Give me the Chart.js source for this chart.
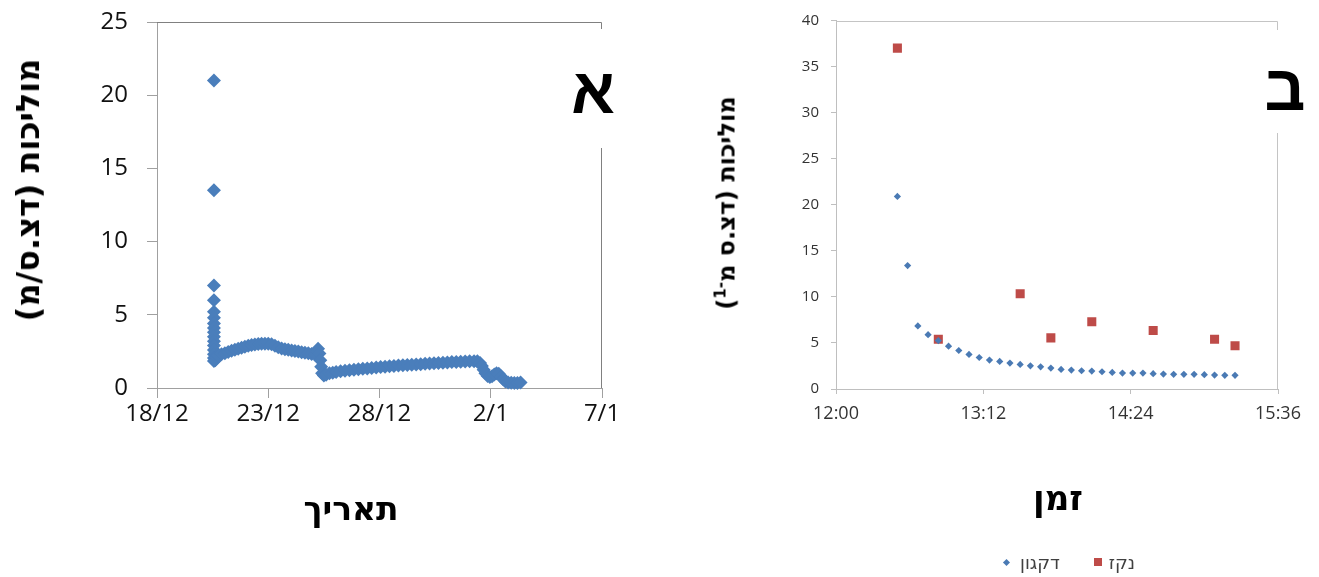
<!DOCTYPE html>
<html lang="he">
<head>
<meta charset="utf-8">
<title>מוליכות</title>
<script src="https://cdn.jsdelivr.net/npm/chart.js@4.4.1/dist/chart.umd.min.js"></script>
<style>
    html, body { margin: 0; padding: 0; background: #fff; }
    body { width: 1319px; height: 577px; position: relative; overflow: hidden;
           font-family: 'DejaVu Sans', 'Liberation Sans', sans-serif; }
    .box { position: absolute; top: 0; height: 577px; }
    #left-box { left: 0; width: 640px; }
    #right-box { left: 660px; width: 659px; }
    canvas { display: block; }
    .txt { position: absolute; white-space: nowrap; direction: rtl; color: #000;
           font-weight: bold; line-height: 1; transform: translate(-50%, -50%); }
    .vert { transform: translate(-50%, -50%) rotate(-90deg); }
    .cover { position: absolute; background: #fff; }
    .letter { font-family: 'Liberation Sans', sans-serif; font-size: 64px; }
    #legend { position: absolute; left: 1001px; top: 550px; height: 24px; display: flex;
              align-items: center; direction: ltr; font-size: 18px; color: #404040; }
    #legend .item { display: flex; align-items: center; margin-right: 34px; }
    #legend .mark { width: 8px; height: 8px; margin-right: 7px; }
    #legend .diamond { width: 5px; height: 5px; transform: rotate(45deg); margin-left: 3px; margin-right: 11px; }
</style>
</head>
<body>

<div class="box" id="left-box"><canvas id="chart-a" width="640" height="577"></canvas></div>
<div class="box" id="right-box"><canvas id="chart-b" width="659" height="577"></canvas></div>

<!-- axis titles -->
<div class="txt vert" style="left:28px; top:190px; font-size:32px;">מוליכות (דצ.ס/מ)</div>
<div class="txt" style="left:351px; top:508px; font-size:33px;">תאריך</div>
<div class="txt vert" style="left:726px; top:203px; font-size:24px;">מוליכות (דצ.ס מ<sup style="font-size:15px">-1</sup>)</div>
<div class="txt" style="left:1058px; top:498px; font-size:34px;">זמן</div>

<!-- panel letters, sitting on a white patch over the frame -->
<div class="cover" style="left:566px; top:29px; width:52px; height:119px;"></div>
<div class="txt letter" style="left:593px; top:91px;">א</div>
<div class="cover" style="left:1256px; top:30px; width:58px; height:103px;"></div>
<div class="txt letter" style="left:1285px; top:88px;">ב</div>

<div id="legend"></div>

<script>
// ---- panel A: conductivity over dates (x = days since 18/12 00:00) ----
const dateTicks = ['18/12', '23/12', '28/12', '2/1', '7/1'];

const daysSince18Dec = [
    2.56, 2.56, 2.56, 2.56, 2.56, 2.56, 2.56, 2.56, 2.56, 2.56, 2.56, 2.56, 2.56, 2.56, 2.56, 2.56,
    2.62, 2.68,
    2.75, 2.9, 3.05, 3.2, 3.35, 3.5, 3.65, 3.8, 3.95, 4.1, 4.25, 4.4, 4.55, 4.7, 4.85, 5.0,
    5.15, 5.3, 5.45, 5.6, 5.75, 5.9, 6.05, 6.2, 6.35, 6.5, 6.65, 6.8, 6.95, 7.1,
    7.18, 7.24, 7.3, 7.34, 7.38, 7.42, 7.5, 7.6, 7.75, 7.9, 8.05,
    8.25, 8.45, 8.65, 8.85, 9.05, 9.25, 9.45, 9.65, 9.85, 10.05, 10.25, 10.45, 10.65, 10.85,
    11.05, 11.25, 11.45, 11.65, 11.85, 12.05, 12.25, 12.45, 12.65, 12.85, 13.05, 13.25, 13.45,
    13.65, 13.85, 14.05, 14.25, 14.4,
    14.52, 14.6, 14.68, 14.76, 14.86, 14.96, 15.06, 15.16, 15.26, 15.36, 15.46, 15.56, 15.66,
    15.78, 15.92, 16.06, 16.2, 16.34
];
const conductivityA = [
    21.0, 13.5, 7.0, 6.0, 5.2, 4.8, 4.4, 4.1, 3.8, 3.5, 3.2, 2.9, 2.6, 2.3, 2.05, 1.85,
    1.9, 2.1,
    2.2, 2.3, 2.38, 2.46, 2.54, 2.61, 2.68, 2.75, 2.82, 2.88, 2.93, 2.97, 3.0, 3.02, 3.03, 3.02,
    2.98, 2.88, 2.78, 2.7, 2.65, 2.61, 2.57, 2.53, 2.49, 2.45, 2.41, 2.37, 2.32, 2.28,
    2.5, 2.68, 2.35, 1.9, 1.45, 1.0, 0.85, 0.9, 1.0, 1.05, 1.1,
    1.14, 1.18, 1.22, 1.25, 1.28, 1.31, 1.34, 1.37, 1.4, 1.43, 1.46, 1.49, 1.51, 1.53,
    1.55, 1.57, 1.59, 1.61, 1.63, 1.65, 1.67, 1.69, 1.71, 1.73, 1.75, 1.77, 1.78,
    1.8, 1.81, 1.82, 1.83, 1.82,
    1.7, 1.5, 1.25, 1.0, 0.82, 0.75, 0.8, 0.92, 1.0, 0.98, 0.8, 0.6, 0.45,
    0.38, 0.36, 0.35, 0.35, 0.37
];

// ---- panel B: conductivity over time, two sampling points ----
const timeTicks = ['12:00', '13:12', '14:24', '15:36'];

const decagonLabel = 'דקגון';
const decagonTimes = [
    '12:30', '12:35', '12:40', '12:45', '12:50', '12:55', '13:00', '13:05', '13:10', '13:15',
    '13:20', '13:25', '13:30', '13:35', '13:40', '13:45', '13:50', '13:55', '14:00', '14:05',
    '14:10', '14:15', '14:20', '14:25', '14:30', '14:35', '14:40', '14:45', '14:50', '14:55',
    '15:00', '15:05', '15:10', '15:15'
];
const decagonValues = [
    20.9, 13.4, 6.85, 5.9, 5.26, 4.65, 4.18, 3.75, 3.42, 3.14,
    2.99, 2.81, 2.67, 2.52, 2.41, 2.27, 2.13, 2.05, 1.98, 1.95,
    1.87, 1.8, 1.73, 1.73, 1.73, 1.66, 1.62, 1.59, 1.59, 1.59,
    1.55, 1.51, 1.48, 1.48
];

const drainLabel = 'נקז';
const drainTimes = ['12:30', '12:50', '13:30', '13:45', '14:05', '14:35', '15:05', '15:15'];
const drainValues = [37.0, 5.4, 10.35, 5.55, 7.3, 6.35, 5.4, 4.7];

function toMinutes(hhmm) {
    const [h, m] = hhmm.split(':').map(Number);
    return h * 60 + m;
}

// top and right frame lines of the plot area
const frameBorder = {
    id: 'frameBorder',
    afterDraw(chart, args, opts) {
        const { ctx, chartArea } = chart;
        const top = Math.round(chartArea.top) + 0.5;
        const right = Math.round(chartArea.right) - 0.5;
        ctx.save();
        ctx.strokeStyle = opts.color;
        ctx.lineWidth = 1;
        ctx.beginPath();
        ctx.moveTo(chartArea.left, top);
        ctx.lineTo(right, top);
        ctx.lineTo(right, chartArea.bottom);
        ctx.stroke();
        ctx.restore();
    }
};

// fixed axis box sizes so the plot area lands where the original has it
function fixHeight(h) {
    return (scale) => { scale.height = h; scale.paddingLeft = 0; scale.paddingRight = 0; };
}
function fixWidth(w) {
    return (scale) => { scale.width = w; scale.paddingTop = 0; scale.paddingBottom = 0; };
}

new Chart(document.getElementById('chart-a'), {
    type: 'scatter',
    data: {
        datasets: [{
            label: 'מוליכות',
            data: daysSince18Dec.map((d, i) => ({ x: d, y: conductivityA[i] })),
            pointStyle: 'rectRot',
            pointRadius: 7,
            pointBorderWidth: 0,
            backgroundColor: '#4a7ebb',
            borderColor: '#4a7ebb',
            clip: false
        }]
    },
    plugins: [frameBorder],
    options: {
        responsive: false,
        animation: false,
        layout: { padding: { left: 0, right: 38, top: 22, bottom: 0 } },
        plugins: {
            legend: { display: false },
            tooltip: { enabled: false },
            frameBorder: { color: '#808080' }
        },
        scales: {
            x: {
                type: 'linear',
                min: 0,
                max: 20,
                afterFit: fixHeight(189),
                ticks: {
                    stepSize: 5,
                    autoSkip: false,
                    maxRotation: 0,
                    padding: 2,
                    color: '#111',
                    font: { family: 'Open Sans', size: 24 },
                    callback: (v) => dateTicks[v / 5]
                },
                grid: { drawOnChartArea: false, tickLength: 10, color: '#a0a0a0' },
                border: { color: '#a0a0a0' }
            },
            y: {
                min: 0,
                max: 25,
                afterFit: fixWidth(157),
                ticks: {
                    stepSize: 5,
                    padding: 19,
                    color: '#111',
                    font: { family: 'Open Sans', size: 24 }
                },
                grid: { drawOnChartArea: false, tickLength: 10, color: '#a0a0a0' },
                border: { color: '#a0a0a0' }
            }
        }
    }
});

const chartB = new Chart(document.getElementById('chart-b'), {
    type: 'scatter',
    data: {
        datasets: [{
            label: decagonLabel,
            data: decagonTimes.map((t, i) => ({ x: toMinutes(t), y: decagonValues[i] })),
            pointStyle: 'rectRot',
            pointRadius: 3.6,
            pointBorderWidth: 0,
            backgroundColor: '#4a7ab4',
            borderColor: '#4a7ab4'
        }, {
            label: drainLabel,
            data: drainTimes.map((t, i) => ({ x: toMinutes(t), y: drainValues[i] })),
            pointStyle: 'rect',
            pointRadius: 6.4,
            pointBorderWidth: 0,
            backgroundColor: '#be4b48',
            borderColor: '#be4b48'
        }]
    },
    plugins: [frameBorder],
    options: {
        responsive: false,
        animation: false,
        layout: { padding: { left: 0, right: 41, top: 20.5, bottom: 0 } },
        plugins: {
            legend: { display: false },
            tooltip: { enabled: false },
            frameBorder: { color: '#c4c4c4' }
        },
        scales: {
            x: {
                type: 'linear',
                min: toMinutes(timeTicks[0]),
                max: toMinutes(timeTicks[timeTicks.length - 1]),
                afterFit: fixHeight(188),
                ticks: {
                    stepSize: 72,
                    autoSkip: false,
                    maxRotation: 0,
                    padding: 9,
                    color: '#333',
                    font: { family: 'Open Sans', size: 18 },
                    callback: (v) => timeTicks[(v - toMinutes(timeTicks[0])) / 72]
                },
                grid: { drawOnChartArea: false, tickLength: 5, color: '#bfbfbf' },
                border: { color: '#bfbfbf' }
            },
            y: {
                min: 0,
                max: 40,
                afterFit: fixWidth(176),
                ticks: {
                    stepSize: 5,
                    padding: 12,
                    color: '#333',
                    font: { family: 'Open Sans', size: 15 }
                },
                grid: { drawOnChartArea: false, tickLength: 5, color: '#bfbfbf' },
                border: { color: '#bfbfbf' }
            }
        }
    }
});

// legend for panel B, built from the chart's datasets
const legend = document.getElementById('legend');
chartB.data.datasets.forEach(ds => {
    const item = document.createElement('div');
    item.className = 'item';
    const mark = document.createElement('div');
    mark.className = 'mark' + (ds.pointStyle === 'rectRot' ? ' diamond' : '');
    mark.style.background = ds.backgroundColor;
    const text = document.createElement('span');
    text.textContent = ds.label;
    item.appendChild(mark);
    item.appendChild(text);
    legend.appendChild(item);
});
</script>
</body>
</html>
